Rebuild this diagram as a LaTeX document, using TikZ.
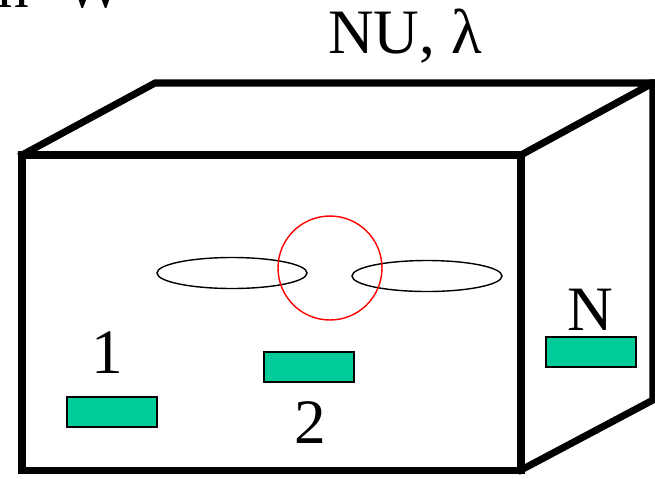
\documentclass[tikz,border=0pt]{standalone}
\usepackage{fontspec}
\setmainfont{Liberation Serif}
\usetikzlibrary{positioning}
\usetikzlibrary{shapes.geometric}
\definecolor{sensorgreen}{RGB}{0,204,153}

\begin{document}
\begin{tikzpicture}[x=0.02cm,y=-0.02cm,
every node/.style={inner sep=0pt},
edge/.style={line width=4pt,line join=miter,line cap=rect},
lbl/.style={font=\fontsize{36}{40}\selectfont},
sensor/.style={draw,fill=sensorgreen,line width=0.8pt,minimum width=1.8cm,minimum height=0.6cm},
orbit/.style={ellipse,draw,line width=0.8pt,minimum width=3cm,minimum height=0.62cm}]
\useasboundingbox (0,0) rectangle (655,478);
% box corners
\coordinate (FTL) at (22,155);
\coordinate (FTR) at (521,155);
\coordinate (FBR) at (521,470);
\coordinate (FBL) at (22,470);
\coordinate (BTL) at (155,83);
\coordinate (BTR) at (653,83);
\coordinate (BBR) at (653,400);
\draw[edge] (FTL)--(FTR)--(FBR)--(FBL)--cycle;
\draw[edge] (FTL)--(BTL)--(BTR)--(FTR);
\draw[edge] (BTR)--(BBR)--(FBR);
% inside
\node[orbit] (orbL) at (232,273) {};
\node[orbit] (orbR) at (427,276) {};
\node[circle,draw=red,line width=0.8pt,minimum size=2.08cm] (hole) at (330,268) {};
\node[sensor] (s1) at (112,412) {};
\node[sensor] (s2) at (309,367) {};
\node[sensor] (sN) at (591,352) {};
\node[lbl,anchor=base] (l1) at (107,373) {1};
\node[lbl,anchor=base] (l2) at (310,443) {2};
\node[lbl,anchor=base] (lN) at (590,330) {N};
\node[lbl,anchor=base] (param) at (405,53) {NU, λ};
\node[lbl,anchor=base west] (title) at (-3,7) {n\hspace{20pt}W};
\end{tikzpicture}
\end{document}
